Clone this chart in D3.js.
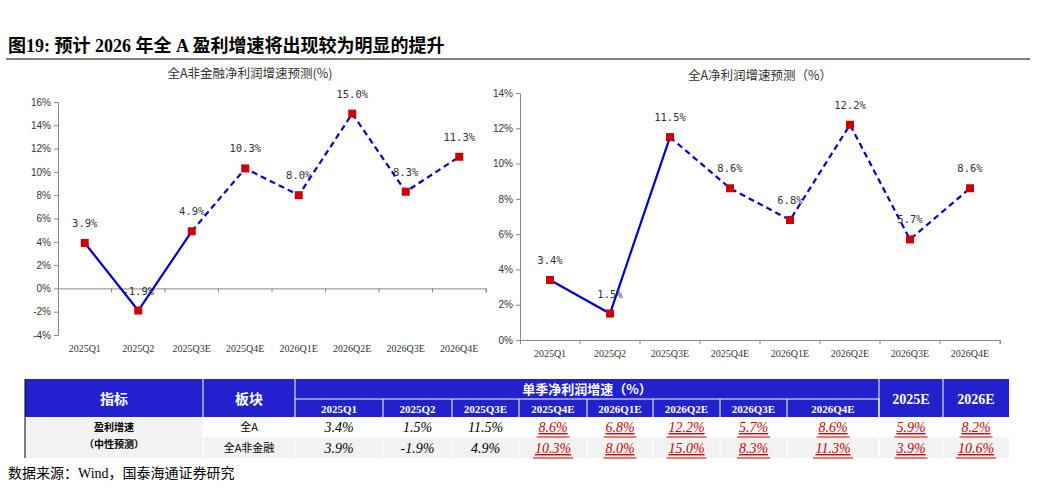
<!DOCTYPE html><html><head><meta charset="utf-8"><script src="https://cdn.jsdelivr.net/npm/d3@7"></script>
<style>body{margin:0;background:#fff}svg{font-family:"Times New Roman","Liberation Serif","Noto Sans CJK SC",serif}</style></head><body><svg id="c" width="1037" height="488"></svg>
<script>
const categories=["2025Q1","2025Q2","2025Q3E","2025Q4E","2026Q1E","2026Q2E","2026Q3E","2026Q4E"];
const nonFin=[3.9,-1.9,4.9,10.3,8.0,15.0,8.3,11.3];
const allA=[3.4,1.5,11.5,8.6,6.8,12.2,5.7,8.6];
const leftTicks=[-4,-2,0,2,4,6,8,10,12,14,16];
const rightTicks=[0,2,4,6,8,10,12,14];
const yearCols=["2025E","2026E"];
const yearAllA=[5.9,8.2], yearNonFin=[3.9,10.6];
const svg=d3.select("#c");
const cjk='"Noto Sans CJK SC",sans-serif';
svg.append("text").attr("x",8).attr("y",52).attr("font-size",18).attr("font-weight","bold").attr("font-family",'"Liberation Serif","Noto Sans CJK SC",serif').text("图19:  预计 2026 年全 A 盈利增速将出现较为明显的提升");
svg.append("line").attr("x1",6).attr("x2",1030).attr("y1",59).attr("y2",59).attr("stroke","#000").attr("stroke-width",1.2);
function chart(x0,x1,ytop,ybot,dom,ticks,data,title,titleX,titleY){
  const x=d3.scaleBand().domain(categories).range([x0,x1]);
  const y=d3.scaleLinear().domain(dom).range([ybot,ytop]);
  const g=svg.append("g");
  g.append("text").attr("x",titleX).attr("y",titleY).attr("text-anchor","middle").attr("font-size",12.5).attr("fill","#333").attr("font-family",cjk).text(title);
  const ya=g.append("g").attr("transform",`translate(${x0},0)`).call(d3.axisLeft(y).tickValues(ticks).tickSize(4).tickFormat(d=>d+"%"));
  ya.selectAll("text").attr("font-size",10).attr("fill","#333");
  ya.select(".domain").attr("stroke","#888");ya.selectAll(".tick line").attr("stroke","#888");
  const xa=g.append("g").attr("transform",`translate(0,${y(0)})`).call(d3.axisBottom(x).tickSize(4).tickFormat(""));
  xa.select(".domain").attr("stroke","#888");xa.selectAll(".tick line").attr("stroke","#888").attr("transform",`translate(${x.bandwidth()/2},0)`);
  g.selectAll(".xl").data(categories).join("text").attr("x",d=>x(d)+x.bandwidth()/2).attr("y",ybot+17).attr("text-anchor","middle").attr("font-size",10).attr("fill","#333").text(d=>d);
  const cx=(d,i)=>x(categories[i])+x.bandwidth()/2;
  const line=d3.line().x((d,i)=>cx(d,i)).y(d=>y(d));
  g.append("path").attr("d",line(data.slice(0,3))).attr("fill","none").attr("stroke","#0000cc").attr("stroke-width",2.2);
  g.append("path").attr("d",d3.line().x((d,i)=>cx(d,i+2)).y(d=>y(d))(data.slice(2))).attr("fill","none").attr("stroke","#0000cc").attr("stroke-width",2.2).attr("stroke-dasharray","6,4");
  g.selectAll(".m").data(data).join("rect").attr("x",(d,i)=>cx(d,i)-4).attr("y",d=>y(d)-4).attr("width",8).attr("height",8).attr("fill","#cc0000");
  g.selectAll(".l").data(data).join("text").attr("x",(d,i)=>cx(d,i)).attr("y",d=>y(d)-16).attr("text-anchor","middle").attr("font-size",10.5).attr("fill","#333").attr("font-family",'"DejaVu Sans Mono",monospace').text(d=>d.toFixed(1)+"%");
}
chart(58,486,102,335,[-4,16],leftTicks,nonFin,"全A非金融净利润增速预测(%)",250,78);
chart(520,1000,93,340,[0,14],rightTicks,allA,"全A净利润增速预测（%）",760,80);
// table
const T=svg.append("g");
const edges=[25,203,295,383,452,519,587,653,720,787,879,943,1009];
const yT=379,yS=399,yH=417,yR=437,yB=458,blue="#2222cc";
T.append("rect").attr("x",25).attr("y",yT).attr("width",1009-25).attr("height",yH-yT).attr("fill",blue);
T.append("rect").attr("x",25).attr("y",yH).attr("width",1009-25).attr("height",yB-yH).attr("fill","#f2f2f2");
T.append("rect").attr("x",203).attr("y",yH).attr("width",92).attr("height",yR-yH).attr("fill","#fff");
T.append("rect").attr("x",295).attr("y",yH).attr("width",1009-295).attr("height",yR-yH).attr("fill","#fff");
const wl=(x1,y1,x2,y2)=>T.append("line").attr("x1",x1).attr("y1",y1).attr("x2",x2).attr("y2",y2).attr("stroke","#fff").attr("stroke-width",1);
[203,295,879,943].forEach(e=>wl(e,yT,e,yB));
edges.slice(3,11).forEach(e=>wl(e,yS,e,yB));
wl(295,yS,879,yS);
wl(203,yR,1009,yR);
T.append("line").attr("x1",25).attr("x2",25).attr("y1",yT).attr("y2",yB).attr("stroke","#000");
const tx=(x,y,s,o)=>{const t=T.append("text").attr("x",x).attr("y",y).attr("text-anchor","middle").text(s);Object.entries(o||{}).forEach(([k,v])=>t.attr(k,v));return t;};
tx(114,404,"指标",{fill:"#fff","font-size":14,"font-weight":"bold","font-family":cjk});
tx(249,404,"板块",{fill:"#fff","font-size":14,"font-weight":"bold","font-family":cjk});
tx(587,394,"单季净利润增速（%）",{fill:"#fff","font-size":13,"font-weight":"bold","font-family":cjk});
categories.forEach((c,i)=>tx((edges[i+2]+edges[i+3])/2,413,c,{fill:"#fff","font-size":11,"font-weight":"bold"}));
yearCols.forEach((c,i)=>tx((edges[i+10]+edges[i+11])/2,404,c,{fill:"#fff","font-size":14,"font-weight":"bold"}));
tx(114,431,"盈利增速",{"font-size":10,"font-weight":"bold","font-family":cjk});
tx(114,448,"（中性预测）",{"font-size":10,"font-weight":"bold","font-family":cjk});
tx(249,431,"全A",{"font-size":11,"font-family":cjk});
tx(249,452,"全A非金融",{"font-size":11,"font-family":cjk});
function row(vals,yv){vals.forEach((v,i)=>{const cx=(edges[i+2]+edges[i+3])/2;const red=i>=3;
  const t=tx(cx,yv,v.toFixed(1)+"%",{"font-size":14,"font-style":"italic",fill:red?"#cc0000":"#000","text-decoration":red?"underline":"none"});
  if(red){const w=v.toFixed(1).length*7+12;T.append("line").attr("x1",cx-w/2).attr("x2",cx+w/2).attr("y1",yv+5).attr("y2",yv+5).attr("stroke","#cc0000").attr("stroke-width",1);}});}
row(allA.concat(yearAllA),432);
row(nonFin.concat(yearNonFin),453);
svg.append("text").attr("x",8).attr("y",478).attr("font-size",14).attr("font-family",'"Liberation Serif","Noto Sans CJK SC",serif').text("数据来源：Wind，国泰海通证券研究");
</script></body></html>
